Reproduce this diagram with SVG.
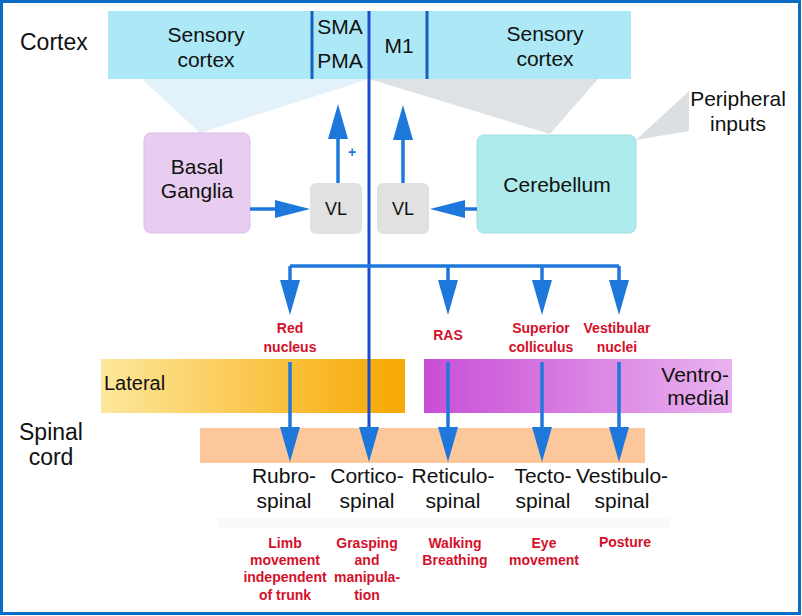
<svg xmlns="http://www.w3.org/2000/svg" width="802" height="616" viewBox="0 0 802 616">
<defs>
<style>
text{font-family:"Liberation Sans",Arial,sans-serif;fill:#111}
.lg{font-size:21px}
.side{font-size:23px}
.vl{font-size:18px}
.red{font-size:14px;font-weight:bold;fill:#d4102a}
.ctr{text-anchor:middle}
.arr{stroke:#1e78dc;stroke-width:3.5;fill:none}
.main{stroke:#1a4cd0;stroke-width:3;fill:none}
.div{stroke:#1560c0;stroke-width:3}
</style>
<marker id="ah" viewBox="0 0 35 20" refX="2" refY="10" markerWidth="35" markerHeight="20" markerUnits="userSpaceOnUse" orient="auto">
<path d="M0,0 L35,10 L0,20 z" fill="#1e78dc"/>
</marker>
<marker id="ahs" viewBox="0 0 35 18" refX="2" refY="9" markerWidth="35" markerHeight="18" markerUnits="userSpaceOnUse" orient="auto">
<path d="M0,0 L35,9 L0,18 z" fill="#1e78dc"/>
</marker>
<linearGradient id="gLat" x1="0" y1="0" x2="1" y2="0">
<stop offset="0" stop-color="#fde79c"/>
<stop offset="1" stop-color="#f7a700"/>
</linearGradient>
<linearGradient id="gVen" x1="0" y1="0" x2="1" y2="0">
<stop offset="0" stop-color="#c94ed6"/>
<stop offset="1" stop-color="#e9b2ef"/>
</linearGradient>
</defs>
<rect x="0" y="0" width="802" height="616" fill="#fff"/>

<g id="fans">
<polygon points="142,79 369,79 200,133" fill="#e3f1fa"/>
<polygon points="369,79 598,79 550,134" fill="#dfe2e5"/>
<polygon points="636,140 689,91 689,131" fill="#dcdfe2"/>
</g>

<g id="cortex">
<rect x="108" y="11" width="523" height="68" fill="#ace8f6"/>
<line class="div" x1="312" y1="11" x2="312" y2="79"/>
<line class="div" x1="427" y1="11" x2="427" y2="79"/>
<text class="lg ctr" x="206" y="42">Sensory</text>
<text class="lg ctr" x="206" y="67">cortex</text>
<text class="lg ctr" x="340" y="34">SMA</text>
<text class="lg ctr" x="340" y="68">PMA</text>
<text class="lg ctr" x="399" y="53">M1</text>
<text class="lg ctr" x="545" y="41">Sensory</text>
<text class="lg ctr" x="545" y="66">cortex</text>
</g>

<g id="label-cortex"><text class="side" x="20" y="50">Cortex</text></g>
<g id="label-spinal"><text class="side ctr" x="51" y="440">Spinal</text><text class="side ctr" x="51" y="465">cord</text></g>
<g id="peripheral"><text class="lg ctr" x="738" y="106">Peripheral</text><text class="lg ctr" x="738" y="131">inputs</text></g>

<g id="basal-ganglia">
<rect x="144" y="133" width="106" height="100" rx="7" fill="#e8cdf0" stroke="#dcbde8" stroke-width="1"/>
<text class="lg ctr" x="197" y="174">Basal</text>
<text class="lg ctr" x="197" y="198">Ganglia</text>
</g>
<g id="vl-left">
<rect x="310" y="183" width="52" height="51" rx="6" fill="#e1e1e1"/>
<text class="vl ctr" x="336" y="215">VL</text>
</g>
<g id="vl-right">
<rect x="377" y="183" width="52" height="51" rx="6" fill="#e1e1e1"/>
<text class="vl ctr" x="403" y="215">VL</text>
</g>
<g id="cerebellum">
<rect x="477" y="135" width="159" height="98" rx="7" fill="#aeebec" stroke="#9fe0e2" stroke-width="1"/>
<text class="lg ctr" x="557" y="192">Cerebellum</text>
</g>

<g id="lateral">
<rect x="101" y="359" width="304" height="54" fill="url(#gLat)"/>
<text x="104" y="390" style="font-size:20px">Lateral</text>
</g>
<g id="ventromedial">
<rect x="424" y="359" width="308" height="54" fill="url(#gVen)"/>
<text class="lg" x="729" y="382" text-anchor="end">Ventro-</text>
<text class="lg" x="729" y="405" text-anchor="end">medial</text>
</g>
<g id="spinal-bar">
<rect x="200" y="428" width="445" height="35" fill="#fcc79b"/>
</g>
<rect x="217" y="518" width="453" height="10" fill="#fafafa"/>

<g id="nuclei">
<text class="red ctr" x="290" y="333">Red</text>
<text class="red ctr" x="290" y="352">nucleus</text>
<text class="red ctr" x="448" y="340">RAS</text>
<text class="red ctr" x="541" y="333">Superior</text>
<text class="red ctr" x="541" y="352">colliculus</text>
<text class="red ctr" x="617" y="333">Vestibular</text>
<text class="red ctr" x="617" y="352">nuclei</text>
</g>

<g id="connectors">
<line class="main" x1="369" y1="11" x2="369" y2="429"/>
<path class="arr" d="M369,426 L369,429" marker-end="url(#ah)"/>
<path class="arr" d="M290,266 L619,266"/>
<path class="arr" d="M290,266 L290,282" marker-end="url(#ah)"/>
<path class="arr" d="M448,266 L448,282" marker-end="url(#ah)"/>
<path class="arr" d="M542,266 L542,282" marker-end="url(#ah)"/>
<path class="arr" d="M619,266 L619,282" marker-end="url(#ah)"/>
<path class="arr" d="M290,362 L290,429" marker-end="url(#ah)"/>
<path class="arr" d="M448,362 L448,429" marker-end="url(#ah)"/>
<path class="arr" d="M542,362 L542,429" marker-end="url(#ah)"/>
<path class="arr" d="M619,362 L619,429" marker-end="url(#ah)"/>
<path class="arr" d="M338,183 L338,137" marker-end="url(#ah)"/>
<path class="arr" d="M403,183 L403,138" marker-end="url(#ah)"/>
<path class="arr" d="M250,209 L277,209" marker-end="url(#ahs)"/>
<path class="arr" d="M477,209 L463,209" marker-end="url(#ahs)"/>
<text x="352" y="157" style="font-size:14px;font-weight:bold;fill:#1e78dc" text-anchor="middle">+</text>
</g>

<g id="tracts">
<text class="lg ctr" x="284" y="483">Rubro-</text>
<text class="lg ctr" x="284" y="508">spinal</text>
<text class="lg ctr" x="367" y="483">Cortico-</text>
<text class="lg ctr" x="367" y="508">spinal</text>
<text class="lg ctr" x="453" y="483">Reticulo-</text>
<text class="lg ctr" x="453" y="508">spinal</text>
<text class="lg ctr" x="543" y="483">Tecto-</text>
<text class="lg ctr" x="543" y="508">spinal</text>
<text class="lg ctr" x="622" y="483">Vestibulo-</text>
<text class="lg ctr" x="622" y="508">spinal</text>
</g>

<g id="functions">
<text class="red ctr" x="285" y="548">Limb</text>
<text class="red ctr" x="285" y="565">movement</text>
<text class="red ctr" x="285" y="582">independent</text>
<text class="red ctr" x="285" y="600">of trunk</text>
<text class="red ctr" x="367" y="548">Grasping</text>
<text class="red ctr" x="367" y="565">and</text>
<text class="red ctr" x="367" y="582">manipula-</text>
<text class="red ctr" x="367" y="600">tion</text>
<text class="red ctr" x="455" y="548">Walking</text>
<text class="red ctr" x="455" y="565">Breathing</text>
<text class="red ctr" x="544" y="548">Eye</text>
<text class="red ctr" x="544" y="565">movement</text>
<text class="red ctr" x="625" y="547">Posture</text>
</g>

<rect x="1.5" y="1.5" width="798" height="612" fill="none" stroke="#0b6cc4" stroke-width="3"/>
</svg>
